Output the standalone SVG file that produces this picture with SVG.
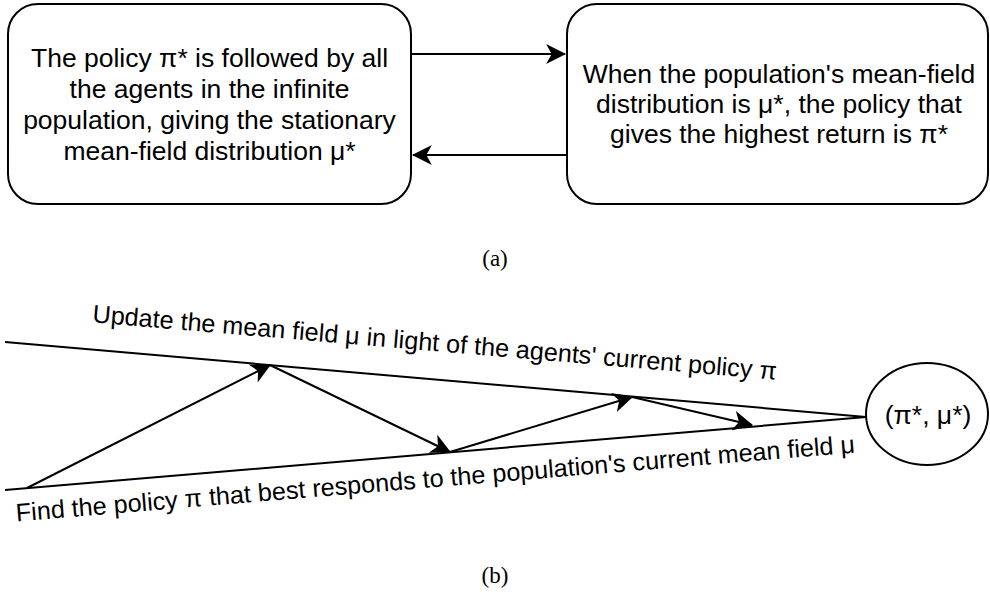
<svg xmlns="http://www.w3.org/2000/svg" width="990" height="613" viewBox="0 0 990 613">
<defs>
<style>
.box{fill:#fff;stroke:#000;stroke-width:2}
.t{font-family:"Liberation Sans",Arial,sans-serif;font-size:26.5px;fill:#000;text-anchor:middle}
.lbl{font-family:"Liberation Sans",Arial,sans-serif;font-size:25.2px;fill:#000;text-anchor:middle}
.cap{font-family:"Liberation Serif","DejaVu Serif",serif;font-size:23px;fill:#000;text-anchor:middle}
.ln{fill:none;stroke:#000;stroke-width:2}
.ar{fill:none;stroke:#000;stroke-width:2;marker-end:url(#arr)}
</style>
<marker id="arr" markerUnits="userSpaceOnUse" markerWidth="20" markerHeight="20" viewBox="0 0 18 18" refX="17" refY="9" orient="auto">
<path d="M0,0 L18,9 L0,18 L5,9 Z" fill="#000"/>
</marker>
</defs>
<rect width="990" height="613" fill="#fff"/>
<g id="connectors">
<line class="ar" x1="411" y1="54" x2="565" y2="54"/>
<line class="ar" x1="567" y1="155" x2="413" y2="155"/>
<line class="ln" x1="5" y1="342" x2="866" y2="417"/>
<line class="ln" x1="5" y1="490" x2="866" y2="417"/>
<line class="ar" x1="27" y1="488" x2="270" y2="365"/>
<line class="ar" x1="270" y1="365" x2="450" y2="452"/>
<line class="ar" x1="450" y1="452" x2="632" y2="397"/>
<line class="ar" x1="632" y1="397" x2="752" y2="425"/>
</g>
<g id="node-left">
<rect class="box" x="8" y="4" width="403" height="200" rx="30" ry="30"/>
<text class="t" x="209.5" y="67">The policy π* is followed by all</text>
<text class="t" x="209.5" y="98">the agents in the infinite</text>
<text class="t" x="209.5" y="129">population, giving the stationary</text>
<text class="t" x="209.5" y="160">mean-field distribution μ*</text>
</g>
<g id="node-right">
<rect class="box" x="567" y="4" width="421" height="200" rx="30" ry="30"/>
<text class="t" x="779" y="83">When the population's mean-field</text>
<text class="t" x="779" y="113">distribution is μ*, the policy that</text>
<text class="t" x="779" y="143">gives the highest return is π*</text>
</g>
<g id="node-eq">
<ellipse class="box" cx="927" cy="414" rx="61" ry="51"/>
<text class="t" x="928" y="424">(π*, μ*)</text>
</g>
<g id="labels">
<text class="lbl" transform="translate(434,351) rotate(4.8)" x="0" y="0">Update the mean field μ in light of the agents' current policy π</text>
<text class="lbl" transform="translate(436,487) rotate(-4.7)" x="0" y="0">Find the policy π that best responds to the population's current mean field μ</text>
<text class="cap" x="495" y="266">(a)</text>
<text class="cap" x="495" y="583">(b)</text>
</g>
</svg>
